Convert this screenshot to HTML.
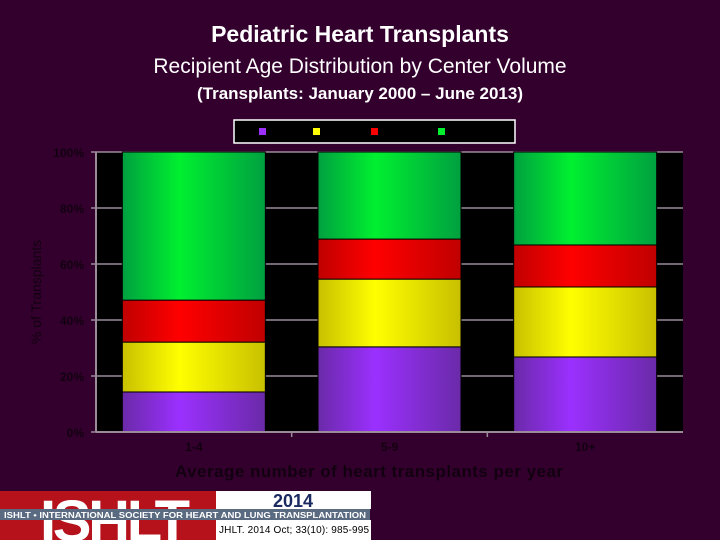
<!DOCTYPE html>
<html><head><meta charset="utf-8"><style>
body{margin:0;background:#33002e;}
svg{display:block;font-family:"Liberation Sans",sans-serif;}
</style></head><body>
<svg width="720" height="540" viewBox="0 0 720 540">
<defs>
<linearGradient id="gP" x1="0" x2="1"><stop offset="0" stop-color="#6a2aa8"/><stop offset="0.4" stop-color="#9b30ff"/><stop offset="1" stop-color="#6a2aa8"/></linearGradient>
<linearGradient id="gY" x1="0" x2="1"><stop offset="0" stop-color="#c8c000"/><stop offset="0.4" stop-color="#ffff00"/><stop offset="1" stop-color="#c8c000"/></linearGradient>
<linearGradient id="gR" x1="0" x2="1"><stop offset="0" stop-color="#c00000"/><stop offset="0.4" stop-color="#ff0000"/><stop offset="1" stop-color="#c00000"/></linearGradient>
<linearGradient id="gG" x1="0" x2="1"><stop offset="0" stop-color="#00a040"/><stop offset="0.4" stop-color="#00f030"/><stop offset="1" stop-color="#00a040"/></linearGradient>
</defs>
<rect width="720" height="540" fill="#33002e"/>
<text x="360" y="42" text-anchor="middle" font-size="23" font-weight="bold" fill="#fff">Pediatric Heart Transplants</text>
<text x="360" y="73" text-anchor="middle" font-size="21" fill="#fff">Recipient Age Distribution by Center Volume</text>
<text x="360" y="99" text-anchor="middle" font-size="17" font-weight="bold" fill="#fff">(Transplants: January  2000 – June 2013)</text>
<g>
<rect x="234" y="120" width="281" height="23" fill="#000" stroke="#fff" stroke-width="1.5"/>
<rect x="259" y="128" width="7" height="7" fill="#9b30ff"/>
<rect x="313" y="128" width="7" height="7" fill="#ffff00"/>
<rect x="371" y="128" width="7" height="7" fill="#ff0000"/>
<rect x="438" y="128" width="7" height="7" fill="#00f030"/>
</g>
<rect x="96" y="152" width="587" height="280" fill="#000"/>
<g id="grid"></g>
<g id="bars"></g>
<g id="axes"></g>
<text transform="translate(41,292) rotate(-90)" text-anchor="middle" font-size="14" fill="#120010">% of Transplants</text>
<text x="369" y="477" text-anchor="middle" font-size="17" font-weight="bold" fill="#120010" textLength="388">Average number of heart transplants per year</text>
<g>
<rect x="0" y="491" width="216" height="49" fill="#b5121b"/>
<text x="115" y="541" text-anchor="middle" font-size="58" font-weight="bold" fill="#fff" textLength="150">ISHLT</text>
<rect x="0" y="509" width="370" height="11" fill="#5a6a80"/>
<text x="4" y="518" font-size="8" font-weight="bold" fill="#fff" textLength="362" lengthAdjust="spacingAndGlyphs">ISHLT • INTERNATIONAL SOCIETY FOR HEART AND LUNG TRANSPLANTATION</text>
<rect x="216" y="491" width="155" height="18" fill="#fff"/>
<text x="293" y="507" text-anchor="middle" font-size="18" font-weight="bold" fill="#1a2a60">2014</text>
<rect x="216" y="520" width="155" height="20" fill="#fff"/>
<text x="219" y="533" font-size="10" fill="#000" textLength="150">JHLT. 2014 Oct; 33(10): 985-995</text>
</g>
</svg>
<script>
const categories=["1-4","5-9","10+"];
const age0to1=[14.3,30.4,26.8];
const age1to5=[17.8,24.2,25.0];
const age6to10=[15.0,14.3,15.0];
const age11to17=[52.9,31.1,33.2];
const yTicks=[0,20,40,60,80,100];
const yTickLabels=["0%","20%","40%","60%","80%","100%"];
const NS="http://www.w3.org/2000/svg";
const x0=96,x1=683,yB=432,yT=152;
const y=v=>yB-(v/100)*(yB-yT);
const band=(x1-x0)/categories.length;
const xc=i=>x0+band*(i+0.5);
const bw=143;
function mk(t,a,p){const e=document.createElementNS(NS,t);for(const k in a)e.setAttribute(k,a[k]);p.appendChild(e);return e;}
const grid=document.getElementById('grid'),bars=document.getElementById('bars'),axes=document.getElementById('axes');
yTicks.forEach((v,i)=>{
 if(v>0){const g=mk('line',{x1:x0,x2:x1,y1:y(v),y2:y(v),stroke:'#9a8a9a','stroke-width':1.5},grid);
 
 }
 const t=mk('line',{x1:x0-5,x2:x0,y1:y(v),y2:y(v),stroke:'#9a8a9a','stroke-width':1.5},axes);
 
 
 const l=mk('text',{x:x0-12,y:y(v)+5,'text-anchor':'end','font-size':12,'font-weight':'bold',fill:'#120010'},axes);
 l.textContent=yTickLabels[i];
 
 
});
const series=[[age0to1,'url(#gP)','age-0-1'],[age1to5,'url(#gY)','age-1-5'],[age6to10,'url(#gR)','age-6-10'],[age11to17,'url(#gG)','age-11-17']];
categories.forEach((c,i)=>{
 let cum=0;
 series.forEach(s=>{
  const v=s[0][i];
  const r=mk('rect',{x:xc(i)-bw/2,y:y(cum+v),width:bw,height:y(cum)-y(cum+v),fill:s[1],stroke:'#000','stroke-width':1},bars);
  
  
  cum+=v;
 });
 const l=mk('text',{x:xc(i),y:yB+19,'text-anchor':'middle','font-size':12,'font-weight':'bold',fill:'#120010'},axes);
 l.textContent=c;
 
 
 if(i>0){const t=mk('line',{x1:x0+band*i,x2:x0+band*i,y1:yB,y2:yB+5,stroke:'#9a8a9a','stroke-width':1.5},axes);
 
 }
});
const ya=mk('line',{x1:x0,x2:x0,y1:yT,y2:yB,stroke:'#9a8a9a','stroke-width':2},axes);


const xa=mk('line',{x1:x0,x2:x1,y1:yB,y2:yB,stroke:'#9a8a9a','stroke-width':2},axes);


</script>
</body></html>
